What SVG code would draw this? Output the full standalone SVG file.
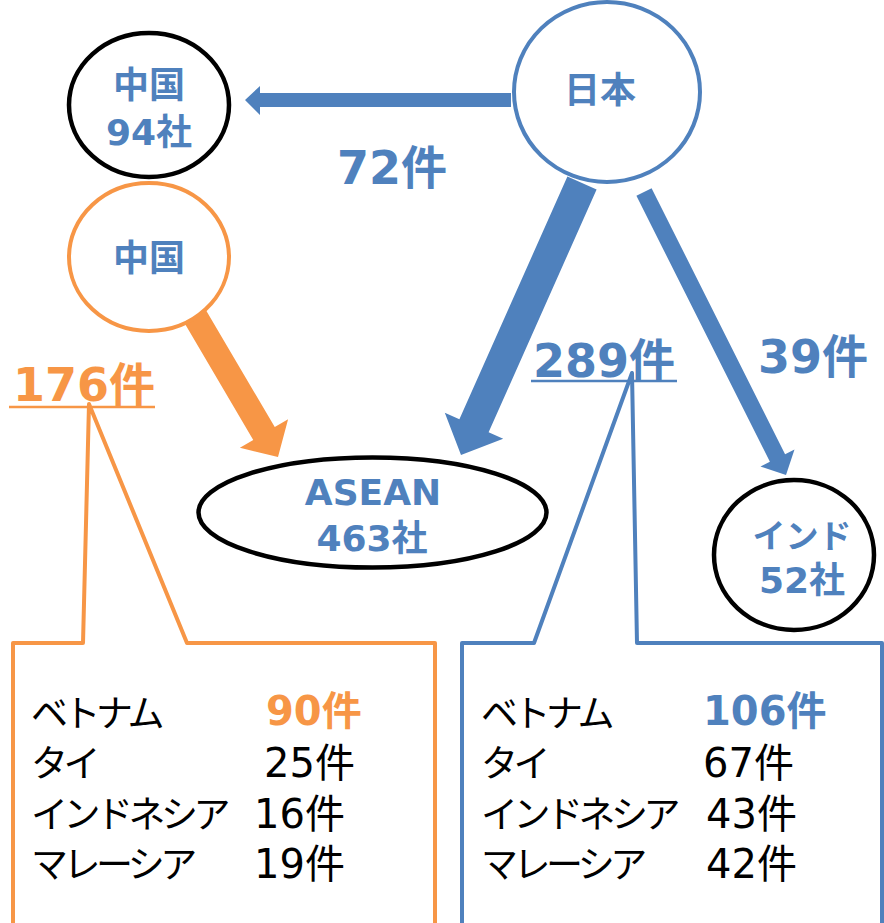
<svg xmlns="http://www.w3.org/2000/svg" width="884" height="923" viewBox="0 0 884 923">
<style>
.lbl{font-family:"DejaVu Sans","Noto Sans CJK JP",sans-serif;font-weight:bold;fill:#4F81BD;text-anchor:middle}
.n36{font-size:36px}
.big{font-size:46px}
.kana{font-family:"Noto Sans CJK JP",sans-serif;font-size:37px;letter-spacing:-4.5px;fill:#000}
.num{font-family:"DejaVu Sans","Noto Sans CJK JP",sans-serif;font-size:40px;fill:#000}
.blue{fill:#4F81BD}
.orange{fill:#F79646}
</style>
<rect width="884" height="923" fill="#fff"/>
<g id="connectors">
  <polygon points="511,93 260,93 260,86 245,100 260,115 260,107 511,107" fill="#4F81BD"/>
  <polygon points="596.6,189.5 488.6,432.3 503.2,438.8 461,455 444.8,412.8 459.4,419.3 567.4,176.5" fill="#4F81BD"/>
  <polygon points="651.6,188.2 785.1,454.2 794.5,449.5 786,475 760.5,466.5 769.9,461.8 636.4,195.8" fill="#4F81BD"/>
  <polygon points="187.75,279.2 274.75,427.1 288.1,419.2 278,457 239.9,447.8 253.25,439.9 166.25,292" fill="#F79646"/>
</g>
<g id="node-china-top">
  <ellipse cx="149" cy="105" rx="80" ry="72" fill="#fff" stroke="#000" stroke-width="4.5"/>
  <text class="lbl n36" x="149" y="98">中国</text>
  <text class="lbl n36" x="149" y="145">94社</text>
</g>
<g id="node-china-orange">
  <ellipse cx="149" cy="257" rx="80" ry="74" fill="#fff" stroke="#F79646" stroke-width="4"/>
  <text class="lbl n36" x="149" y="271">中国</text>
</g>
<g id="node-japan">
  <ellipse cx="607" cy="92" rx="93" ry="90" fill="#fff" stroke="#4F81BD" stroke-width="4"/>
  <text class="lbl n36" x="600" y="103">日本</text>
</g>
<g id="node-asean">
  <ellipse cx="372.5" cy="512.5" rx="174" ry="55" fill="#fff" stroke="#000" stroke-width="4.5"/>
  <text class="lbl n36" x="373" y="505">ASEAN</text>
  <text class="lbl n36" x="372" y="551">463社</text>
</g>
<g id="node-india">
  <ellipse cx="794" cy="555" rx="80" ry="75" fill="#fff" stroke="#000" stroke-width="4.5"/>
  <text class="lbl" style="font-size:33px" x="802" y="548">インド</text>
  <text class="lbl n36" x="802" y="593">52社</text>
</g>
<g id="label-72">
  <text class="lbl big" x="392" y="184">72件</text>
</g>
<g id="label-39">
  <text class="lbl big" x="813" y="373">39件</text>
</g>
<g id="label-289">
  <text class="lbl big" x="604" y="377">289件</text>
  <line x1="531" y1="381" x2="677" y2="381" stroke="#4F81BD" stroke-width="2.5"/>
</g>
<g id="label-176">
  <text class="lbl big orange" x="84" y="401">176件</text>
  <line x1="9" y1="407" x2="155" y2="407" stroke="#F79646" stroke-width="2.5"/>
</g>
<g id="callout-orange">
  <polygon points="13,643 83,643 89,404 187,643 435,643 435,940 13,940" fill="none" stroke="#F79646" stroke-width="4" stroke-linejoin="round"/>
  <text class="kana" x="31" y="727">ベトナム</text>
  <text class="kana" x="31" y="777">タイ</text>
  <text class="kana" x="31" y="828">インドネシア</text>
  <text class="kana" x="31" y="878">マレーシア</text>
  <text class="num orange" style="font-weight:bold" x="266" y="725">90件</text>
  <text class="num" x="264" y="777">25件</text>
  <text class="num" x="254" y="828">16件</text>
  <text class="num" x="254" y="878">19件</text>
</g>
<g id="callout-blue">
  <polygon points="462,643 534,643 632,373 637,643 882,643 882,940 462,940" fill="none" stroke="#4F81BD" stroke-width="4" stroke-linejoin="round"/>
  <text class="kana" x="481" y="727">ベトナム</text>
  <text class="kana" x="481" y="777">タイ</text>
  <text class="kana" x="481" y="828">インドネシア</text>
  <text class="kana" x="481" y="878">マレーシア</text>
  <text class="num blue" style="font-weight:bold" x="703" y="725">106件</text>
  <text class="num" x="703" y="777">67件</text>
  <text class="num" x="706" y="828">43件</text>
  <text class="num" x="706" y="878">42件</text>
</g>
</svg>
